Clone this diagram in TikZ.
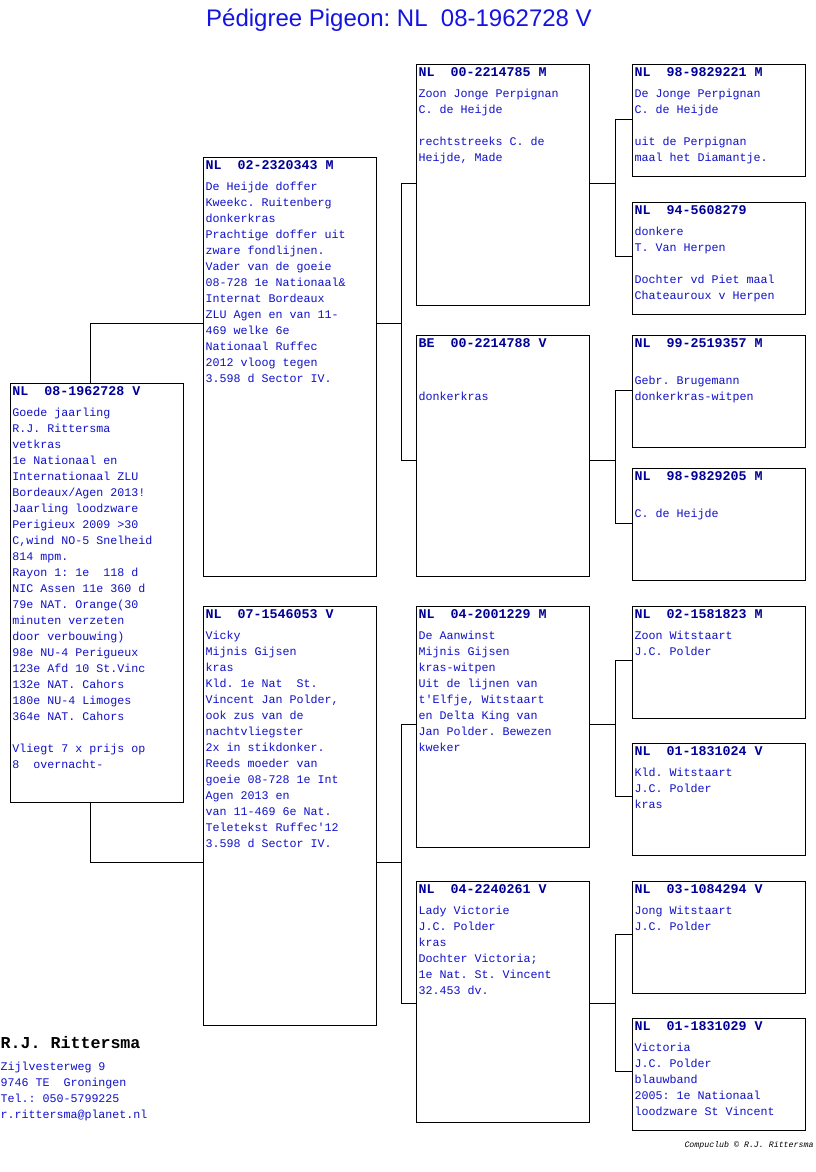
\documentclass[tikz,border=0pt]{standalone}
\usepackage{fontspec}
\setmainfont{Liberation Mono}
\newfontfamily\titlefont{Liberation Sans}
\frenchspacing
\definecolor{inkblue}{RGB}{16,16,200}
\definecolor{ringblue}{RGB}{0,0,150}
\definecolor{titleblue}{RGB}{20,20,225}
% ring number on top of every box
\newcommand{\ring}[1]{{\fontsize{10}{12}\selectfont\bfseries\color{ringblue}#1}\\[3.75pt]}

\begin{document}
\begin{tikzpicture}[x=0.75pt, y=-0.75pt, line width=0.75pt,
  box/.style={draw, inner sep=0pt, anchor=north west, minimum width=130pt},
  tall/.style={box, minimum height=314.25pt},
  mid/.style={box, minimum height=180.75pt},
  low/.style={box, minimum height=84pt},
  info/.style={anchor=north west, inner sep=0pt, align=left, text=inkblue,
    font=\fontsize{8.75}{12}\selectfont}]
  \useasboundingbox (0,0) rectangle (816,1172);

  \node[anchor=base, text=titleblue, font=\titlefont\fontsize{18}{22}\selectfont] (title) at (399,26) {Pédigree Pigeon: NL~ 08-1962728 V};

  % boxes
  \node[tall] (p0) at (10,383) {};
  \node[tall] (p1) at (203,157) {};
  \node[tall] (p2) at (203,606) {};
  \node[mid] (a1) at (416,64) {};
  \node[mid] (a2) at (416,335) {};
  \node[mid] (a3) at (416,606) {};
  \node[mid] (a4) at (416,881) {};
  \node[low] (b1) at (632,64) {};
  \node[low] (b2) at (632,202) {};
  \node[low] (b3) at (632,335) {};
  \node[low] (b4) at (632,468) {};
  \node[low] (b5) at (632,606) {};
  \node[low] (b6) at (632,743) {};
  \node[low] (b7) at (632,881) {};
  \node[low] (b8) at (632,1018) {};

  % texts
  \node[info] (t0) at ([shift={(2,3.5)}]p0.north west) {\ring{NL~ 08-1962728 V}Goede jaarling\\ R.J. Rittersma\\ vetkras\\ 1e Nationaal en\\ Internationaal ZLU\\ Bordeaux/Agen 2013!\\ Jaarling loodzware\\ Perigieux 2009 >30\\ C,wind NO-5 Snelheid\\ 814 mpm.\\ Rayon 1: 1e~ 118 d\\ NIC Assen 11e 360 d\\ 79e NAT. Orange(30\\ minuten verzeten\\ door verbouwing)\\ 98e NU-4 Perigueux\\ 123e Afd 10 St.Vinc\\ 132e NAT. Cahors\\ 180e NU-4 Limoges\\ 364e NAT. Cahors\\ ~\\ Vliegt 7 x prijs op\\ 8~ overnacht-};
  \node[info] (t1) at ([shift={(2,3.5)}]p1.north west) {\ring{NL~ 02-2320343 M}De Heijde doffer\\ Kweekc. Ruitenberg\\ donkerkras\\ Prachtige doffer uit\\ zware fondlijnen.\\ Vader van de goeie\\ 08-728 1e Nationaal\&\\ Internat Bordeaux\\ ZLU Agen en van 11-\\ 469 welke 6e\\ Nationaal Ruffec\\ 2012 vloog tegen\\ 3.598 d Sector IV.};
  \node[info] (t2) at ([shift={(2,3.5)}]p2.north west) {\ring{NL~ 07-1546053 V}Vicky\\ Mijnis Gijsen\\ kras\\ Kld. 1e Nat~ St.\\ Vincent Jan Polder,\\ ook zus van de\\ nachtvliegster\\ 2x in stikdonker.\\ Reeds moeder van\\ goeie 08-728 1e Int\\ Agen 2013 en\\ van 11-469 6e Nat.\\ Teletekst Ruffec\textquotesingle 12\\ 3.598 d Sector IV.};
  \node[info] (u1) at ([shift={(2,3.5)}]a1.north west) {\ring{NL~ 00-2214785 M}Zoon Jonge Perpignan\\ C. de Heijde\\ ~\\ rechtstreeks C. de\\ Heijde, Made};
  \node[info] (u2) at ([shift={(2,3.5)}]a2.north west) {\ring{BE~ 00-2214788 V}~\\ ~\\ donkerkras};
  \node[info] (u3) at ([shift={(2,3.5)}]a3.north west) {\ring{NL~ 04-2001229 M}De Aanwinst\\ Mijnis Gijsen\\ kras-witpen\\ Uit de lijnen van\\ t\textquotesingle Elfje, Witstaart\\ en Delta King van\\ Jan Polder. Bewezen\\ kweker};
  \node[info] (u4) at ([shift={(2,3.5)}]a4.north west) {\ring{NL~ 04-2240261 V}Lady Victorie\\ J.C. Polder\\ kras\\ Dochter Victoria;\\ 1e Nat. St. Vincent\\ 32.453 dv.};
  \node[info] (v1) at ([shift={(2,3.5)}]b1.north west) {\ring{NL~ 98-9829221 M}De Jonge Perpignan\\ C. de Heijde\\ ~\\ uit de Perpignan\\ maal het Diamantje.};
  \node[info] (v2) at ([shift={(2,3.5)}]b2.north west) {\ring{NL~ 94-5608279}donkere\\ T. Van Herpen\\ ~\\ Dochter vd Piet maal\\ Chateauroux v Herpen};
  \node[info] (v3) at ([shift={(2,3.5)}]b3.north west) {\ring{NL~ 99-2519357 M}~\\ Gebr. Brugemann\\ donkerkras-witpen};
  \node[info] (v4) at ([shift={(2,3.5)}]b4.north west) {\ring{NL~ 98-9829205 M}~\\ C. de Heijde};
  \node[info] (v5) at ([shift={(2,3.5)}]b5.north west) {\ring{NL~ 02-1581823 M}Zoon Witstaart\\ J.C. Polder};
  \node[info] (v6) at ([shift={(2,3.5)}]b6.north west) {\ring{NL~ 01-1831024 V}Kld. Witstaart\\ J.C. Polder\\ kras};
  \node[info] (v7) at ([shift={(2,3.5)}]b7.north west) {\ring{NL~ 03-1084294 V}Jong Witstaart\\ J.C. Polder};
  \node[info] (v8) at ([shift={(2,3.5)}]b8.north west) {\ring{NL~ 01-1831029 V}Victoria\\ J.C. Polder\\ blauwband\\ 2005: 1e Nationaal\\ loodzware St Vincent};

  % connector heights and forks
  \coordinate (lp1) at (0,323);
  \coordinate (lp2) at (0,862);
  \coordinate (la1) at (0,183);
  \coordinate (la2) at (0,460);
  \coordinate (la3) at (0,724);
  \coordinate (la4) at (0,1003);
  \coordinate (lb1) at (0,119);
  \coordinate (lb2) at (0,256);
  \coordinate (lb3) at (0,390);
  \coordinate (lb4) at (0,523);
  \coordinate (lb5) at (0,660);
  \coordinate (lb6) at (0,796);
  \coordinate (lb7) at (0,934);
  \coordinate (lb8) at (0,1071);
  \coordinate (f0) at (90,0);
  \coordinate (f1) at (401,0);
  \coordinate (f2) at (615,0);

  \draw (p0.north -| f0) |- (p1.west |- lp1);
  \draw (p0.south -| f0) |- (p2.west |- lp2);
  \draw (p1.east |- lp1) -| (f1 |- la1) -- (a1.west |- la1);
  \draw (f1 |- lp1) |- (a2.west |- la2);
  \draw (p2.east |- lp2) -| (f1 |- la3) -- (a3.west |- la3);
  \draw (f1 |- lp2) |- (a4.west |- la4);
  \draw (a1.east |- la1) -| (f2 |- lb1) -- (b1.west |- lb1);
  \draw (f2 |- la1) |- (b2.west |- lb2);
  \draw (a2.east |- la2) -| (f2 |- lb3) -- (b3.west |- lb3);
  \draw (f2 |- la2) |- (b4.west |- lb4);
  \draw (a3.east |- la3) -| (f2 |- lb5) -- (b5.west |- lb5);
  \draw (f2 |- la3) |- (b6.west |- lb6);
  \draw (a4.east |- la4) -| (f2 |- lb7) -- (b7.west |- lb7);
  \draw (f2 |- la4) |- (b8.west |- lb8);

  % breeder
  \node[anchor=base west, inner sep=0pt, font=\fontsize{12.5}{14}\selectfont\bfseries] (owner) at (0,1048) {R.J. Rittersma};
  \node[info] (addr) at (0,1062) {Zijlvesterweg 9\\ 9746 TE~ Groningen\\ Tel.: 050-5799225\\ r.rittersma@planet.nl};
  \node[anchor=base east, inner sep=0pt, font=\fontsize{6.2}{7}\selectfont\itshape] (credit) at (814,1147) {Compuclub © R.J. Rittersma};
\end{tikzpicture}
\end{document}
